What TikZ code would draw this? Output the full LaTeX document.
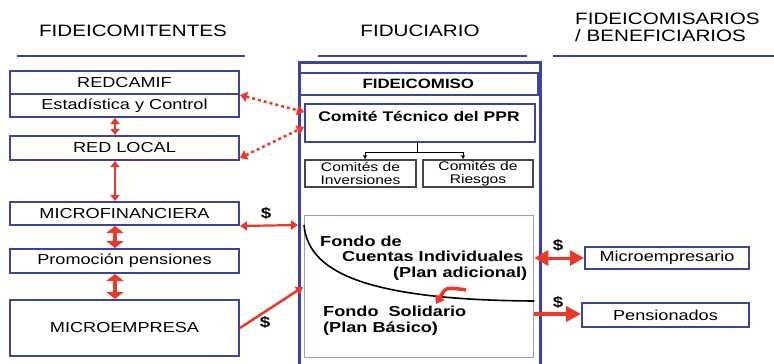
\documentclass[tikz,border=0pt]{standalone}
\usepackage{fontspec}
\setmainfont{Liberation Sans}[FakeStretch=1.25]
\usetikzlibrary{arrows.meta,calc}
\definecolor{bblue}{RGB}{62,66,160}
\definecolor{rred}{RGB}{236,56,40}
\definecolor{lblue}{RGB}{155,155,212}
\definecolor{dgray}{RGB}{70,70,70}
\begin{document}
\begin{tikzpicture}[x=1pt,y=-1pt,
  hdr/.style={inner sep=0pt, font=\fontsize{16.5}{17}\selectfont},
  hline/.style={draw=bblue, line width=2pt},
  lbox/.style={draw=bblue, line width=2pt, inner sep=0pt, minimum width=229pt, font=\fontsize{14.5}{16}\selectfont},
  rbox/.style={draw=bblue, line width=2pt, inner sep=0pt, font=\fontsize{14.5}{16}\selectfont},
  sbox/.style={draw=dgray, line width=1.2pt, inner sep=0pt, minimum width=111pt, minimum height=27pt, align=center, font=\fontsize{12.5}{13}\selectfont},
  btxt/.style={inner sep=0pt, anchor=west, text height=11pt, text depth=3pt, font=\fontsize{14.5}{16}\selectfont\bfseries},
  dollar/.style={inner sep=0pt, font=\fontsize{15}{16}\selectfont\bfseries},
  conn/.style={draw=black, line width=0.9pt},
  rline/.style={draw=rred, line width=2.5pt},
  smallhead/.style={{Triangle[width=9pt,length=6pt]}-{Triangle[width=9pt,length=6pt]}},
  bighead/.style={{Triangle[width=17pt,length=7pt]}-{Triangle[width=17pt,length=7pt]}},
  dotarrow/.style={draw=rred, line width=2.5pt, dash pattern=on 3pt off 3pt, {Triangle[width=10pt,length=7pt]}-{Triangle[width=10pt,length=7pt]}}
]
\path[use as bounding box] (0,0) rectangle (774,364);
\clip (0,0) rectangle (774,364);

% headers
\node[hdr] (h1) at (133,31) {FIDEICOMITENTES};
\node[hdr] (h2) at (420,31) {FIDUCIARIO};
\node[hdr, anchor=west, align=left] (h3) at (575,27) {FIDEICOMISARIOS\\/ BENEFICIARIOS};
\draw[hline] (17,56) -- (245,56);
\draw[hline] (318,56) -- (527,56);
\draw[hline] (553,56) -- (774,56);

% left boxes
\node[lbox, minimum height=23pt] (redcamif) at (124.5,82.5) {REDCAMIF};
\node[lbox, minimum height=23pt] (estad) at (124.5,105.5) {Estadística y Control};
\node[lbox, minimum height=24pt] (redlocal) at (124.5,148) {RED LOCAL};
\node[lbox, minimum height=23pt] (microfin) at (124.5,213.5) {MICROFINANCIERA};
\node[lbox, minimum height=24pt] (promo) at (124.5,261) {Promoción pensiones};
\node[lbox, minimum height=56pt] (microemp) at (124.5,328) {MICROEMPRESA};

% fiduciary
\node[draw=bblue, line width=2.6pt, inner sep=0pt, minimum width=241pt, minimum height=330pt, anchor=north west] (fid) at (298,61) {};
\node[draw=bblue, line width=1.6pt, inner sep=0pt, minimum width=239pt, minimum height=22pt, anchor=north west, font=\fontsize{13.5}{15}\selectfont\bfseries] (fideic) at (298,72) {FIDEICOMISO};
\node[draw=bblue, line width=2pt, inner sep=0pt, minimum width=230pt, minimum height=38pt, anchor=north west] (comite) at (304,103) {};
\node[inner sep=0pt, font=\fontsize{14}{15}\selectfont\bfseries] (comitetxt) at (419,116) {Comité Técnico del PPR};
\node[sbox] (inv) at (360.5,173.5) {Comités de\\Inversiones};
\node[sbox, minimum width=110pt] (ries) at (478,173.5) {Comités de\\Riesgos};
\coordinate (j) at ($(comite.south)+(-3,9)$);
\draw[conn] (comite.south -| j) -- (j);
\draw[conn,-{Latex[length=4pt,width=4.5pt]}] (j) -| ([xshift=4.5pt]inv.north);
\draw[conn,-{Latex[length=4pt,width=4.5pt]}] (j) -| ([xshift=-15pt]ries.north);

% fondo
\node[draw=lblue, line width=1.3pt, inner sep=0pt, minimum width=229pt, minimum height=142pt, anchor=north west] (fondo) at (304,215) {};
\coordinate (cs) at (304,225);
\coordinate (ce) at (fondo.east |- 0,301);
\draw[black, line width=1.6pt] (cs) .. controls (308,270) and (360,300) .. (ce);
\node[btxt] (f1) at (320,242) {Fondo de};
\node[btxt] (f2) at (342,257.5) {Cuentas Individuales};
\node[btxt] (f3) at (393,273) {(Plan adicional)};
\node[btxt] (f4) at (323,312) {Fondo\ \ Solidario};
\node[btxt] (f5) at (323,328) {(Plan Básico)};
\coordinate (ra) at (466,290);
\coordinate (rb) at (436,304);
\draw[rline, line width=3.5pt, -{Triangle[width=11pt,length=8pt]}] (ra) .. controls (446,287) .. (rb);

% right boxes
\node[rbox, minimum width=164pt, minimum height=22pt] (mempr) at (667,258) {Microempresario};
\node[rbox, minimum width=167pt, minimum height=24pt] (pens) at (665.5,315) {Pensionados};

% red arrows left column
\draw[rline, smallhead] ([xshift=-9.5pt]estad.south) -- ([xshift=-9.5pt]redlocal.north);
\draw[rline, smallhead] ([xshift=-9.5pt]redlocal.south) -- ([xshift=-9.5pt]microfin.north);
\draw[rline, line width=4pt, bighead] ([xshift=-9.5pt]microfin.south) -- ([xshift=-9.5pt]promo.north);
\draw[rline, line width=4pt, bighead] ([xshift=-9.5pt]promo.south) -- ([xshift=-9.5pt]microemp.north);

% dotted arrows
\draw[dotarrow] (redcamif.south east) -- ([yshift=-9pt]comite.north west);
\draw[dotarrow] ([yshift=3pt]redlocal.south east) -- ([yshift=-24pt]comite.north west);

% money arrows
\draw[rline, line width=2.2pt, {Triangle[width=9pt,length=7pt]}-{Triangle[width=9pt,length=7pt]}] (microfin.south east) -- (cs -| fid.west);
\node[dollar] (d1) at (266,213) {\$};
\draw[rline, line width=2.5pt, -{Triangle[width=9pt,length=7pt]}] (microemp.east) -- ($(fondo.north west)+(-1,72)$);
\node[dollar] (d2) at (265,322) {\$};
\draw[rline, line width=3pt, {Triangle[width=15pt,length=14pt]}-{Triangle[width=15pt,length=14pt]}] (fondo.east |- mempr.west) -- (mempr.west);
\node[dollar] (d3) at (558,245) {\$};
\draw[rline, line width=4pt, -{Triangle[width=15pt,length=15pt]}] ([yshift=1pt]fondo.east |- pens.west) -- ([yshift=1pt]pens.west);
\node[dollar] (d4) at (558,302) {\$};
\end{tikzpicture}
\end{document}
